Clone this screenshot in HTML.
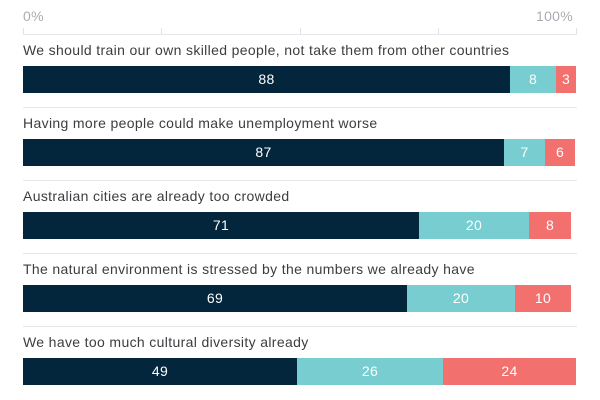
<!DOCTYPE html>
<html><head><style>
body{margin:0;width:600px;height:400px;background:#fff;font-family:"Liberation Sans",sans-serif;position:relative;overflow:hidden}
.a{position:absolute;white-space:nowrap}
.t{font-size:14px;letter-spacing:0.35px;color:#3b3d40}
.ax{font-size:14px;letter-spacing:0.3px;color:#a9adb3}
.s{position:absolute;height:27px;color:#fff;font-size:14px;letter-spacing:0.3px;text-align:center;line-height:27px}
.n{background:#03263d}.c{background:#77cdd0}.r{background:#f2706e}
.h{position:absolute;left:23px;width:554px;height:1px;background:#e3e6ea}
.v{position:absolute;top:28px;width:1px;height:6px;background:#dfe3e8}
</style></head><body>
<div class="a ax" style="left:23px;top:8px">0%</div>
<div class="a ax" style="left:536px;top:8px">100%</div>
<div class="h" style="top:34px"></div>
<div class="v" style="left:23px"></div><div class="v" style="left:161px"></div><div class="v" style="left:300px"></div><div class="v" style="left:438px"></div><div class="v" style="left:576px"></div>

<div class="a t" style="left:23px;top:42px">We should train our own skilled people, not take them from other countries</div>
<div class="s n" style="top:66px;left:23px;width:487px">88</div><div class="s c" style="top:66px;left:510px;width:46px">8</div><div class="s r" style="top:66px;left:556px;width:20px">3</div>
<div class="h" style="top:107px"></div>

<div class="a t" style="left:23px;top:115px">Having more people could make unemployment worse</div>
<div class="s n" style="top:139px;left:23px;width:481px">87</div><div class="s c" style="top:139px;left:504px;width:41px">7</div><div class="s r" style="top:139px;left:545px;width:30px">6</div>
<div class="h" style="top:180px"></div>

<div class="a t" style="left:23px;top:188px">Australian cities are already too crowded</div>
<div class="s n" style="top:212px;left:23px;width:396px">71</div><div class="s c" style="top:212px;left:419px;width:110px">20</div><div class="s r" style="top:212px;left:529px;width:42px">8</div>
<div class="h" style="top:253px"></div>

<div class="a t" style="left:23px;top:261px">The natural environment is stressed by the numbers we already have</div>
<div class="s n" style="top:285px;left:23px;width:384px">69</div><div class="s c" style="top:285px;left:407px;width:108px">20</div><div class="s r" style="top:285px;left:515px;width:56px">10</div>
<div class="h" style="top:326px"></div>

<div class="a t" style="left:23px;top:334px">We have too much cultural diversity already</div>
<div class="s n" style="top:358px;left:23px;width:274px">49</div><div class="s c" style="top:358px;left:297px;width:146px">26</div><div class="s r" style="top:358px;left:443px;width:133px">24</div>
</body></html>
